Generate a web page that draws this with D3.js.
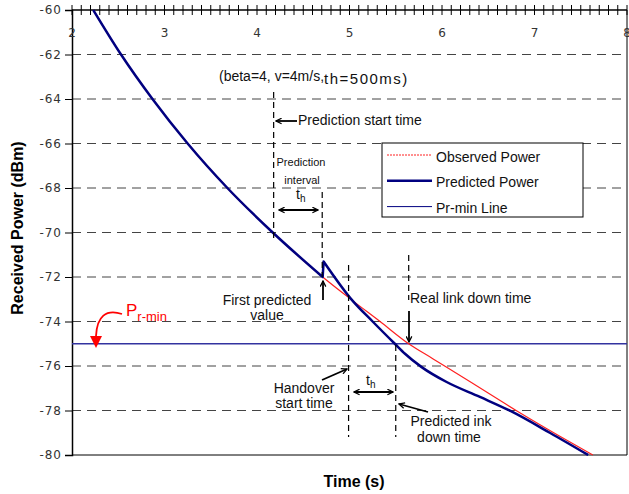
<!DOCTYPE html>
<html><head><meta charset="utf-8">
<script src="https://cdn.jsdelivr.net/npm/d3@7"></script>
<style>
body{margin:0;background:#fff;}
svg{display:block;font-family:"Liberation Sans",Arial,sans-serif;}
</style></head>
<body><svg id="c" width="629" height="494"></svg>
<script>
// ---- data ----
const xTicks = [2,3,4,5,6,7,8];
const yTicks = [-60,-62,-64,-66,-68,-70,-72,-74,-76,-78,-80];
const obsTime  = [2.23,2.53,2.87,3.25,3.68,4.17,4.71,5.03,5.33,5.64,5.90,6.30,6.81,7.25,7.63];
const obsPower = [-60,-62,-64,-66,-68,-70,-72,-73.05,-74,-75,-75.67,-76.7,-78.02,-79.1,-80];
const predTime  = [2.23,2.53,2.87,3.25,3.68,4.17,4.71,4.72,5.03,5.25,5.49,5.60,5.78,6.05,6.41,6.74,7.17,7.58];
const predPower = [-60,-62,-64,-66,-68,-70,-72,-71.3,-73.05,-74.0,-75.0,-75.45,-76.05,-76.72,-77.39,-78.02,-79.01,-80];
const predJumpIndex = 6;   // last observed-matching sample before the first predicted value
const prMin = -75;
const legendLabels = ["Observed Power","Predicted Power","Pr-min Line"];

// ---- chart ----
const svg = d3.select("#c");
const x = d3.scaleLinear().domain([2,8]).range([72,627]);
const y = d3.scaleLinear().domain([-60,-80]).range([10,455]);

svg.append("defs").html(`
<marker id="ah" viewBox="0 0 10 10" refX="9" refY="5" markerWidth="7" markerHeight="7" orient="auto-start-reverse" markerUnits="userSpaceOnUse">
<path d="M1,1 L9,5 L1,9" fill="none" stroke="#000" stroke-width="1.8"/></marker>`);

// gridlines
svg.append("g").selectAll("line").data(yTicks.filter(d=>d!==-60&&d!==-80)).join("line")
  .attr("x1",x(2)).attr("x2",x(8)).attr("y1",d=>y(d)).attr("y2",d=>y(d))
  .attr("stroke","#444").attr("stroke-width",1).attr("stroke-dasharray","9,6");

// frame
svg.append("line").attr("x1",x(2)).attr("x2",x(8)).attr("y1",y(-80)).attr("y2",y(-80)).attr("stroke","#000");
svg.append("line").attr("x1",x(8)).attr("x2",x(8)).attr("y1",y(-60)).attr("y2",y(-80)).attr("stroke","#000");

// y axis
const ya = svg.append("g").attr("transform",`translate(${x(2)},0)`)
  .call(d3.axisLeft(y).tickValues(yTicks).tickSize(7).tickPadding(3).tickFormat(d=>String(d)));
ya.select(".domain").attr("stroke","#000").attr("stroke-width",1.5);
ya.selectAll("text").attr("font-family","DejaVu Sans").attr("font-size",12).attr("fill","#333").attr("letter-spacing",1);

// top axis
svg.append("line").attr("x1",x(2)).attr("x2",x(8)).attr("y1",y(-60)).attr("y2",y(-60)).attr("stroke","#000").attr("stroke-width",1.5);
svg.append("g").selectAll("line").data(d3.range(20,81).map(d=>d/10)).join("line")
  .attr("x1",d=>x(d)).attr("x2",d=>x(d)).attr("y1",y(-60)-5).attr("y2",y(-60)+5).attr("stroke","#000");
svg.append("g").selectAll("text").data(xTicks).join("text")
  .attr("x",d=>x(d)).attr("y",36.5).attr("text-anchor","middle")
  .attr("font-family","DejaVu Sans").attr("font-size",12).attr("fill","#333").text(d=>d);

// Pr-min line
svg.append("line").attr("x1",x(2)).attr("x2",x(8)).attr("y1",y(prMin)).attr("y2",y(prMin))
  .attr("stroke","#3333a0").attr("stroke-width",1.3);

// curves
const smooth = d3.line().x(d=>x(d[0])).y(d=>y(d[1])).curve(d3.curveMonotoneX);
const straight = d3.line().x(d=>x(d[0])).y(d=>y(d[1]));
const obsPts = obsTime.map((t,i)=>[t,obsPower[i]]);
const predPts = predTime.map((t,i)=>[t,predPower[i]]);
svg.append("path").datum(obsPts).attr("d",smooth)
  .attr("fill","none").attr("stroke","#ff2020").attr("stroke-width",1.2);
const predD = smooth(predPts.slice(0,predJumpIndex+1)) +
  straight(predPts.slice(predJumpIndex,predJumpIndex+2)).replace(/^M/,"L") +
  smooth(predPts.slice(predJumpIndex+1)).replace(/^M/,"L");
svg.append("path").attr("d",predD).attr("fill","none").attr("stroke","#000080")
  .attr("stroke-width",2.5).attr("stroke-linejoin","round");

// annotation helpers
function vdash(t,y1,y2){svg.append("line").attr("x1",x(t)).attr("x2",x(t)).attr("y1",y1).attr("y2",y2)
  .attr("stroke","#000").attr("stroke-width",1.2).attr("stroke-dasharray","6,4");}
function arrow(x1,y1,x2,y2,both){const l=svg.append("line").attr("x1",x1).attr("y1",y1).attr("x2",x2).attr("y2",y2)
  .attr("stroke","#000").attr("stroke-width",1.8).attr("marker-end","url(#ah)"); if(both)l.attr("marker-start","url(#ah)");}
function txt(xx,yy,s,size,anchor){return svg.append("text").attr("x",xx).attr("y",yy).attr("font-size",size||14)
  .attr("text-anchor",anchor||"start").attr("fill","#111").text(s);}
function th(xx,yy){const t=svg.append("text").attr("x",xx).attr("y",yy).attr("font-size",14).attr("fill","#111");
  t.append("tspan").text("t"); t.append("tspan").attr("dy",3).attr("font-size",10).text("h");}

// header note
const hn = svg.append("text").attr("x",219).attr("y",80.5).attr("font-size",14).attr("fill","#111");
hn.append("tspan").text("(beta=4, v=4m/s,");
hn.append("tspan").attr("dy",3).attr("font-size",15).attr("letter-spacing",1.5).text("th=500ms)");

vdash(4.18,92,240);
arrow(297,121,276,121);
txt(298,125,"Prediction start time");
txt(301,166,"Prediction",11,"middle");
txt(302,184,"interval",11,"middle");
th(296,199);
arrow(279,210,318,210,true);
vdash(4.705,192,277);
arrow(323,300,323,281);
txt(267,305,"First predicted",14,"middle");
txt(267,320,"value",14,"middle");

vdash(4.99,265,437);
vdash(5.64,255,300);
arrow(409,311,409,342);
txt(410,303,"Real link down time");
vdash(5.50,345,437);

txt(304,393,"Handover",14,"middle");
txt(304,408,"start time",14,"middle");
arrow(322,380,347,369);
th(366,385);
arrow(354,392,393,392,true);
arrow(428,412,399,404);
txt(451,426,"Predicted ink",14,"middle");
txt(449,441.5,"down time",14,"middle");

// Pr-min label
const pl = svg.append("text").attr("x",126).attr("y",316).attr("fill","#ff0000").attr("font-size",17);
pl.append("tspan").text("P");
pl.append("tspan").attr("dy",5).attr("font-size",13).text("r-min");
svg.append("path").attr("d","M122,314 C106,309 97,316 96,336").attr("fill","none").attr("stroke","#ff0000").attr("stroke-width",1.8);
svg.append("path").attr("d","M90,336 L102,336 L96,348 Z").attr("fill","#ff0000");

// legend
const lg = svg.append("g");
lg.append("rect").attr("x",382).attr("y",143).attr("width",201).attr("height",74).attr("fill","#fff").attr("stroke","#000");
const ls = [{c:"#ff2020",w:1,da:"2,1"},{c:"#000080",w:2.6,da:null},{c:"#000080",w:1,da:null}];
legendLabels.forEach((s,i)=>{
  const yy = 155 + i*25.8;
  lg.append("line").attr("x1",387).attr("x2",432).attr("y1",yy).attr("y2",yy)
    .attr("stroke",ls[i].c).attr("stroke-width",ls[i].w).attr("stroke-dasharray",ls[i].da);
  lg.append("text").attr("x",436).attr("y",yy+6.5).attr("font-size",14).attr("fill","#111").text(s);
});

// axis titles
svg.append("text").attr("transform","translate(23,228) rotate(-90)").attr("text-anchor","middle")
  .attr("font-size",16).attr("font-weight","bold").attr("fill","#000").text("Received Power (dBm)");
svg.append("text").attr("x",354).attr("y",487).attr("text-anchor","middle")
  .attr("font-size",16).attr("font-weight","bold").attr("fill","#000").text("Time (s)");
</script></body></html>
